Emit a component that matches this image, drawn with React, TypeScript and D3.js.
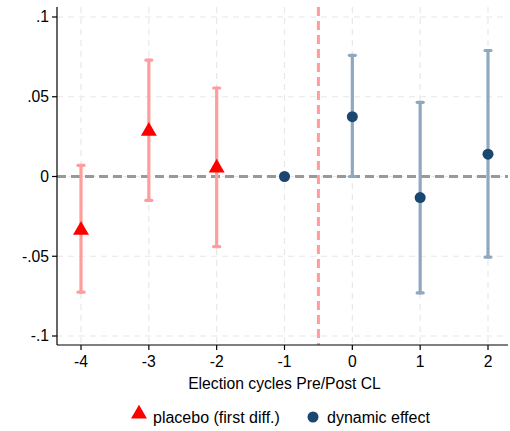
import * as d3 from "d3";

const placeboX = [-4, -3, -2];
const placeboEst = [-0.033, 0.029, 0.006];
const placeboLo = [-0.0725, -0.015, -0.044];
const placeboHi = [0.007, 0.073, 0.0555];

const dynX = [0, 1, 2];
const dynEst = [0.0375, -0.0132, 0.014];
const dynLo = [0.0, -0.073, -0.0505];
const dynHi = [0.076, 0.0465, 0.079];

const refX = [-1];
const refEst = [0];

const xTicks = [-4, -3, -2, -1, 0, 1, 2];
const yTicks = [-0.1, -0.05, 0, 0.05, 0.1];
const yTickLabels = ["-.1", "-.05", "0", ".05", ".1"];

const width = 510;
const height = 431;
const plotLeft = 57;
const plotRight = 508;
const plotTop = 7;
const plotBottom = 345;

const font = "Liberation Sans, Arial, sans-serif";

export default function App() {
  const x = d3.scaleLinear().domain([-4, 2]).range([81, 488]);
  const y = d3.scaleLinear().domain([-0.1, 0.1]).range([336, 17]);

  const placeboColor = "#ff0000";
  const placeboCI = "#ff9c9c";
  const dynColor = "#1a476f";
  const dynCI = "#8fa8c0";

  const tri = d3.symbol().type(d3.symbolTriangle).size(110)();

  const ci = (xs: number[], lo: number[], hi: number[], color: string) =>
    xs.map((v, i) => (
      <g key={`ci${v}`} stroke={color} strokeWidth={3.2} strokeLinecap="round">
        <line x1={x(v)} x2={x(v)} y1={y(lo[i])} y2={y(hi[i])} />
        <line x1={x(v) - 3} x2={x(v) + 3} y1={y(lo[i])} y2={y(lo[i])} />
        <line x1={x(v) - 3} x2={x(v) + 3} y1={y(hi[i])} y2={y(hi[i])} />
      </g>
    ));

  return (
    <svg
      width={width}
      height={height}
      style={{ position: "absolute", left: 0, top: 0, background: "#fff" }}
    >
      <rect width={width} height={height} fill="#fff" />
      {/* grid */}
      <g stroke="#e8e8e8" strokeWidth={1.2} strokeDasharray="6,5">
        {yTicks.map((t) => (
          <line key={`gy${t}`} x1={plotLeft} x2={plotRight} y1={y(t)} y2={y(t)} />
        ))}
        {xTicks.map((t) => (
          <line key={`gx${t}`} x1={x(t)} x2={x(t)} y1={plotTop} y2={plotBottom} />
        ))}
      </g>
      {/* zero line */}
      <line
        x1={plotLeft}
        x2={plotRight}
        y1={y(0)}
        y2={y(0)}
        stroke="#999999"
        strokeWidth={3}
        strokeDasharray="9,5"
      />
      {/* event line */}
      <line
        x1={x(-0.5)}
        x2={x(-0.5)}
        y1={plotTop}
        y2={plotBottom}
        stroke="#ff9c9c"
        strokeWidth={3}
        strokeDasharray="9,5"
      />
      {ci(placeboX, placeboLo, placeboHi, placeboCI)}
      {ci(dynX, dynLo, dynHi, dynCI)}
      {placeboX.map((v, i) => (
        <path
          key={`p${v}`}
          d={tri!}
          transform={`translate(${x(v)},${y(placeboEst[i]) + 1})`}
          fill={placeboColor}
        />
      ))}
      {dynX.map((v, i) => (
        <circle key={`d${v}`} cx={x(v)} cy={y(dynEst[i])} r={5.5} fill={dynColor} />
      ))}
      {refX.map((v, i) => (
        <circle key={`r${v}`} cx={x(v)} cy={y(refEst[i])} r={5.5} fill={dynColor} />
      ))}
      {/* axes */}
      <g stroke="#000" strokeWidth={1.2}>
        <line x1={plotLeft} x2={plotLeft} y1={plotTop} y2={plotBottom} />
        <line x1={plotLeft} x2={plotRight} y1={plotBottom} y2={plotBottom} />
        {yTicks.map((t) => (
          <line key={`ty${t}`} x1={plotLeft - 5} x2={plotLeft} y1={y(t)} y2={y(t)} />
        ))}
        {xTicks.map((t) => (
          <line key={`tx${t}`} x1={x(t)} x2={x(t)} y1={plotBottom} y2={plotBottom + 5} />
        ))}
      </g>
      <g fontFamily={font} fontSize={15.7} fill="#000">
        {yTicks.map((t, i) => (
          <text key={`ly${t}`} x={plotLeft - 8} y={y(t)} dy="0.35em" textAnchor="end">
            {yTickLabels[i]}
          </text>
        ))}
        {xTicks.map((t) => (
          <text key={`lx${t}`} x={x(t)} y={plotBottom + 22} textAnchor="middle">
            {t}
          </text>
        ))}
        <text x={284.5} y={389} textAnchor="middle">
          Election cycles Pre/Post CL
        </text>
        {/* legend */}
        <path d={tri!} transform={`translate(139,414)`} fill={placeboColor} />
        <text x={153} y={423} fontSize={16}>placebo (first diff.)</text>
        <circle cx={313} cy={417} r={5.5} fill={dynColor} />
        <text x={327} y={423} fontSize={16}>dynamic effect</text>
      </g>
    </svg>
  );
}
